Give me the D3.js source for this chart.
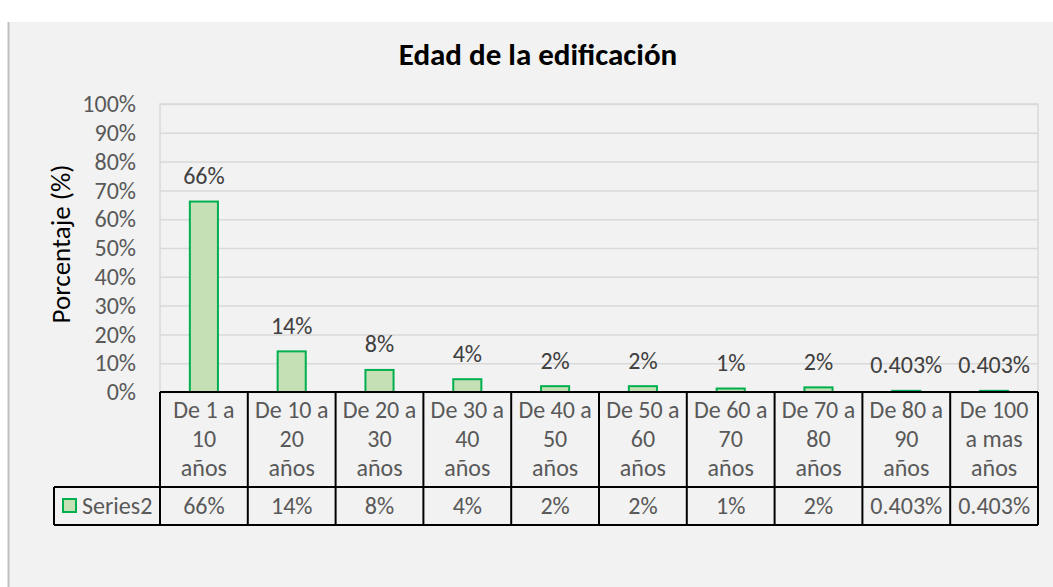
<!DOCTYPE html>
<html>
<head>
<meta charset="utf-8">
<script src="https://cdn.jsdelivr.net/npm/d3@7"></script>
<style>
  html, body { margin: 0; padding: 0; background: #fff; }
  svg { display: block; font-family: Calibri, Carlito, Lato, sans-serif; }
</style>
</head>
<body>
<div id="chart"></div>
<script>
// data
const categories = [
  "De 1 a\n10\naños", "De 10 a\n20\naños", "De 20 a\n30\naños", "De 30 a\n40\naños",
  "De 40 a\n50\naños", "De 50 a\n60\naños", "De 60 a\n70\naños", "De 70 a\n80\naños",
  "De 80 a\n90\naños", "De 100\na mas\naños"
];
const values = [0.6613, 0.1411, 0.0766, 0.0444, 0.0202, 0.0202, 0.0121, 0.0161, 0.00403, 0.00403];
const valueLabels = ["66%", "14%", "8%", "4%", "2%", "2%", "1%", "2%", "0.403%", "0.403%"];
const yTicks = [0, 0.1, 0.2, 0.3, 0.4, 0.5, 0.6, 0.7, 0.8, 0.9, 1];
const seriesName = "Series2";

const W = 1053, H = 587;
const plot = { left: 160, right: 1038, top: 104, bottom: 392 };
const rowCat = 487, rowVal = 525, legendLeft = 54;
const fs = 24;

const svg = d3.select('#chart').append('svg')
  .attr('width', W).attr('height', H);

// chart area
svg.append('rect').attr('x', 8).attr('y', 22).attr('width', W - 8).attr('height', H - 22)
  .attr('fill', '#f2f2f2');
svg.append('line').attr('x1', 8.5).attr('x2', 8.5).attr('y1', 22).attr('y2', H)
  .attr('stroke', '#bfbfbf').attr('stroke-width', 2);

const x = d3.scaleBand().domain(d3.range(categories.length)).range([plot.left, plot.right]);
const y = d3.scaleLinear().domain([0, 1]).range([plot.bottom, plot.top]);

// gridlines
svg.append('g')
  .attr('transform', `translate(${plot.left},0)`)
  .call(d3.axisLeft(y).tickValues(yTicks).tickSize(-(plot.right - plot.left)).tickFormat(''))
  .call(g => g.select('.domain').remove())
  .selectAll('line').attr('stroke', '#d9d9d9').attr('stroke-width', 1.5);

// plot area border
svg.append('rect').attr('x', plot.left).attr('y', plot.top)
  .attr('width', plot.right - plot.left).attr('height', plot.bottom - plot.top)
  .attr('fill', 'none').attr('stroke', '#d9d9d9').attr('stroke-width', 1.5);

// y axis labels
svg.append('g')
  .attr('transform', `translate(${plot.left - 24},0)`)
  .call(d3.axisLeft(y).tickValues(yTicks).tickSize(0).tickPadding(0).tickFormat(d3.format('.0%')))
  .call(g => g.select('.domain').remove())
  .selectAll('text')
    .attr('font-size', fs).attr('font-family', 'Calibri, Carlito, Lato, sans-serif')
    .attr('fill', '#595959');

// bars
const bw = x.bandwidth() * 0.32;
svg.append('g').selectAll('rect').data(values).join('rect')
  .attr('x', (d, i) => x(i) + (x.bandwidth() - bw) / 2)
  .attr('y', d => y(d))
  .attr('width', bw)
  .attr('height', d => y(0) - y(d))
  .attr('fill', '#c5e0b4').attr('stroke', '#00b050').attr('stroke-width', 2);

// data labels
svg.append('g').selectAll('text').data(values).join('text')
  .attr('x', (d, i) => x(i) + x.bandwidth() / 2)
  .attr('y', d => y(d) - 26)
  .attr('dy', '0.35em')
  .attr('text-anchor', 'middle')
  .attr('font-size', fs).attr('fill', '#404040')
  .text((d, i) => valueLabels[i]);

// data table
const tbl = svg.append('g');
const cell = tbl.selectAll('g').data(categories).join('g')
  .attr('transform', (d, i) => `translate(${x(i) + x.bandwidth() / 2},0)`);
cell.append('text')
  .attr('text-anchor', 'middle').attr('font-size', fs).attr('fill', '#595959')
  .selectAll('tspan').data(d => d.split('\n')).join('tspan')
    .attr('x', 0).attr('y', (d, j) => 410 + j * 29).attr('dy', '0.35em')
    .text(d => d);
cell.append('text')
  .attr('text-anchor', 'middle').attr('font-size', fs).attr('fill', '#595959')
  .attr('y', (rowCat + rowVal) / 2).attr('dy', '0.35em')
  .text((d, i) => valueLabels[i]);

const lineAttrs = s => s.attr('stroke', '#000').attr('stroke-width', 2);
tbl.append('line').attr('x1', plot.left).attr('x2', plot.right).attr('y1', plot.bottom).attr('y2', plot.bottom).call(lineAttrs);
tbl.append('line').attr('x1', legendLeft).attr('x2', plot.right).attr('y1', rowCat).attr('y2', rowCat).call(lineAttrs);
tbl.append('line').attr('x1', legendLeft).attr('x2', plot.right).attr('y1', rowVal).attr('y2', rowVal).call(lineAttrs);
tbl.append('line').attr('x1', legendLeft).attr('x2', legendLeft).attr('y1', rowCat).attr('y2', rowVal).call(lineAttrs);
tbl.selectAll('.vline').data(d3.range(categories.length + 1)).join('line')
  .attr('class', 'vline')
  .attr('x1', i => i < categories.length ? x(i) : plot.right)
  .attr('x2', i => i < categories.length ? x(i) : plot.right)
  .attr('y1', plot.bottom).attr('y2', rowVal)
  .call(lineAttrs);

// legend key in table
tbl.append('rect').attr('x', 63).attr('y', 499).attr('width', 13).attr('height', 13)
  .attr('fill', '#c5e0b4').attr('stroke', '#00b050').attr('stroke-width', 2);
tbl.append('text').attr('x', 82).attr('y', (rowCat + rowVal) / 2).attr('dy', '0.35em')
  .attr('font-size', fs).attr('fill', '#595959').text(seriesName);

// titles
svg.append('text').attr('x', 538).attr('y', 54).attr('dy', '0.35em')
  .attr('text-anchor', 'middle').attr('font-size', 31).attr('font-weight', 'bold')
  .attr('fill', '#000').text('Edad de la edificación');

svg.append('text')
  .attr('transform', `translate(61,244) rotate(-90)`)
  .attr('dy', '0.35em').attr('text-anchor', 'middle')
  .attr('font-size', 27).attr('fill', '#000').text('Porcentaje (%)');
</script>
</body>
</html>
